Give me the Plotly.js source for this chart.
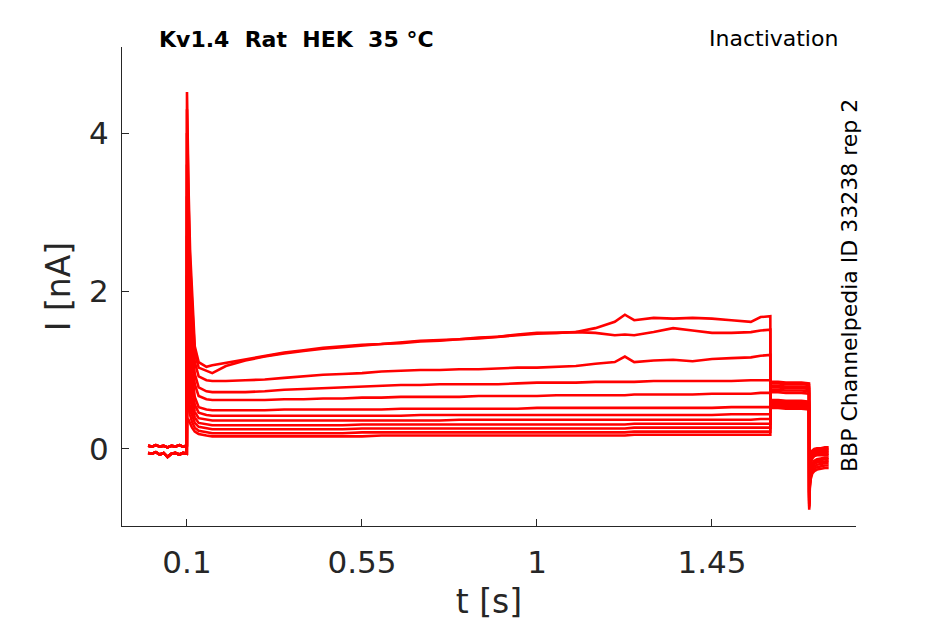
<!DOCTYPE html>
<html>
<head>
<meta charset="utf-8">
<script src="https://cdn.plot.ly/plotly-3.0.1.min.js"></script>
<style>
  html, body { margin: 0; padding: 0; background: #ffffff; }
  #chart { width: 945px; height: 624px; }
</style>
</head>
<body>
<div id="chart"></div>
<script>
// Kv1.4 inactivation protocol, 12 sweeps (A = largest current ... L = smallest)

// holding segment before the prepulse
const preT = [0, 0.01, 0.02, 0.03, 0.04, 0.05, 0.06, 0.07, 0.08, 0.09, 0.0995];
const preHi = [0.04, 0.03, 0.05, 0.03, 0.04, 0.02, 0.04, 0.03, 0.05, 0.03, 0.04];
const preLo = [-0.05, -0.06, -0.04, -0.07, -0.05, -0.10, -0.06, -0.05, -0.07, -0.05, -0.06];

// prepulse segment (0.1 s .. 1.6 s)
const pulseT = [0.1, 0.104, 0.108, 0.113, 0.12, 0.13, 0.15, 0.165, 0.2, 0.25,
    0.3, 0.35, 0.4, 0.45, 0.5, 0.55, 0.6, 0.65, 0.7, 0.75,
    0.8, 0.85, 0.9, 0.95, 1.0, 1.05, 1.1, 1.15, 1.18, 1.2,
    1.226, 1.25, 1.3, 1.35, 1.4, 1.45, 1.5, 1.55, 1.575, 1.6];

const iA = [4.52, 3.30, 2.50, 2.00, 1.30, 1.10, 1.04, 1.06, 1.09, 1.14,
    1.18, 1.22, 1.25, 1.28, 1.30, 1.32, 1.33, 1.35, 1.37, 1.38,
    1.39, 1.41, 1.42, 1.45, 1.47, 1.47, 1.48, 1.53, 1.58, 1.61,
    1.70, 1.63, 1.66, 1.65, 1.66, 1.65, 1.63, 1.61, 1.67, 1.68];
const iB = [4.30, 3.10, 2.35, 1.85, 1.22, 1.03, 0.99, 0.96, 1.05, 1.12,
    1.17, 1.21, 1.24, 1.27, 1.29, 1.31, 1.33, 1.34, 1.36, 1.37,
    1.39, 1.40, 1.42, 1.44, 1.46, 1.47, 1.48, 1.47, 1.45, 1.44,
    1.45, 1.44, 1.48, 1.53, 1.50, 1.47, 1.47, 1.48, 1.50, 1.51];
const iC = [4.00, 2.90, 2.10, 1.60, 1.10, 0.92, 0.87, 0.86, 0.86, 0.87,
    0.88, 0.90, 0.92, 0.94, 0.95, 0.96, 0.98, 0.99, 1.00, 1.00,
    1.01, 1.01, 1.02, 1.03, 1.03, 1.04, 1.05, 1.08, 1.09, 1.10,
    1.17, 1.10, 1.12, 1.13, 1.11, 1.14, 1.15, 1.16, 1.18, 1.19];
const iD = [3.60, 2.60, 1.80, 1.35, 0.95, 0.78, 0.73, 0.72, 0.72, 0.72,
    0.73, 0.75, 0.76, 0.77, 0.78, 0.79, 0.80, 0.81, 0.81, 0.82,
    0.82, 0.82, 0.82, 0.83, 0.84, 0.84, 0.84, 0.85, 0.85, 0.85,
    0.85, 0.85, 0.86, 0.86, 0.86, 0.86, 0.86, 0.87, 0.87, 0.87];
const iE = [3.20, 2.30, 1.60, 1.15, 0.82, 0.67, 0.63, 0.62, 0.62, 0.62,
    0.62, 0.63, 0.63, 0.64, 0.64, 0.65, 0.65, 0.66, 0.66, 0.66,
    0.66, 0.67, 0.67, 0.67, 0.67, 0.68, 0.68, 0.68, 0.68, 0.68,
    0.68, 0.69, 0.69, 0.69, 0.69, 0.70, 0.70, 0.70, 0.71, 0.71];
const iF = [2.70, 1.90, 1.30, 0.95, 0.66, 0.53, 0.50, 0.49, 0.49, 0.49,
    0.49, 0.50, 0.50, 0.50, 0.50, 0.50, 0.50, 0.51, 0.51, 0.51,
    0.51, 0.51, 0.51, 0.51, 0.52, 0.52, 0.52, 0.52, 0.52, 0.52,
    0.52, 0.52, 0.52, 0.52, 0.52, 0.52, 0.53, 0.53, 0.53, 0.53];
const iG = [2.20, 1.60, 1.10, 0.80, 0.56, 0.46, 0.43, 0.42, 0.42, 0.42,
    0.42, 0.42, 0.42, 0.42, 0.42, 0.42, 0.42, 0.42, 0.43, 0.43,
    0.43, 0.43, 0.43, 0.43, 0.43, 0.43, 0.43, 0.43, 0.43, 0.43,
    0.43, 0.43, 0.43, 0.43, 0.43, 0.43, 0.44, 0.44, 0.44, 0.44];
const iH = [1.70, 1.25, 0.90, 0.65, 0.47, 0.39, 0.37, 0.36, 0.36, 0.36,
    0.36, 0.36, 0.36, 0.36, 0.36, 0.36, 0.36, 0.36, 0.36, 0.36,
    0.37, 0.37, 0.37, 0.37, 0.37, 0.37, 0.37, 0.37, 0.37, 0.37,
    0.37, 0.37, 0.37, 0.37, 0.37, 0.37, 0.37, 0.37, 0.38, 0.38];
const iI = [1.30, 1.00, 0.72, 0.53, 0.40, 0.33, 0.31, 0.30, 0.30, 0.30,
    0.30, 0.30, 0.30, 0.30, 0.30, 0.31, 0.31, 0.31, 0.31, 0.31,
    0.31, 0.31, 0.31, 0.31, 0.31, 0.31, 0.31, 0.31, 0.31, 0.31,
    0.31, 0.32, 0.32, 0.32, 0.32, 0.32, 0.32, 0.32, 0.32, 0.32];
const iJ = [0.95, 0.75, 0.56, 0.43, 0.33, 0.28, 0.26, 0.25, 0.25, 0.25,
    0.25, 0.25, 0.25, 0.25, 0.25, 0.26, 0.26, 0.26, 0.26, 0.26,
    0.26, 0.26, 0.26, 0.26, 0.26, 0.26, 0.26, 0.26, 0.26, 0.26,
    0.26, 0.27, 0.27, 0.27, 0.27, 0.27, 0.27, 0.27, 0.27, 0.27];
const iK = [0.65, 0.55, 0.43, 0.34, 0.27, 0.23, 0.21, 0.20, 0.20, 0.20,
    0.20, 0.20, 0.20, 0.20, 0.20, 0.21, 0.21, 0.21, 0.21, 0.21,
    0.21, 0.21, 0.21, 0.21, 0.21, 0.21, 0.21, 0.21, 0.21, 0.21,
    0.21, 0.22, 0.22, 0.22, 0.22, 0.22, 0.22, 0.22, 0.22, 0.22];
const iL = [0.38, 0.37, 0.32, 0.27, 0.22, 0.19, 0.17, 0.16, 0.16, 0.16,
    0.16, 0.16, 0.16, 0.16, 0.16, 0.16, 0.17, 0.17, 0.17, 0.17,
    0.17, 0.17, 0.17, 0.17, 0.17, 0.17, 0.17, 0.17, 0.17, 0.17,
    0.17, 0.18, 0.18, 0.18, 0.18, 0.18, 0.18, 0.18, 0.18, 0.18];

// test step (1.6 .. 1.7 s) followed by tail after repolarisation
const afterT = [1.6005, 1.62, 1.64, 1.66, 1.68, 1.6995,
    1.7, 1.7015, 1.704, 1.708, 1.713, 1.72, 1.73, 1.74, 1.75];

const aA = [0.52, 0.52, 0.51, 0.51, 0.51, 0.50, -0.77, -0.50, -0.38, -0.31, -0.28, -0.26, -0.25, -0.24, -0.24];
const aB = [0.54, 0.54, 0.53, 0.53, 0.53, 0.52, -0.74, -0.47, -0.35, -0.28, -0.25, -0.23, -0.22, -0.21, -0.21];
const aC = [0.56, 0.56, 0.55, 0.55, 0.55, 0.54, -0.72, -0.44, -0.32, -0.25, -0.22, -0.20, -0.19, -0.18, -0.18];
const aD = [0.58, 0.58, 0.57, 0.57, 0.57, 0.56, -0.70, -0.41, -0.29, -0.22, -0.19, -0.17, -0.16, -0.16, -0.15];
const aE = [0.60, 0.60, 0.59, 0.59, 0.59, 0.58, -0.68, -0.38, -0.27, -0.20, -0.17, -0.15, -0.14, -0.13, -0.13];
const aF = [0.62, 0.62, 0.61, 0.61, 0.61, 0.60, -0.66, -0.36, -0.25, -0.18, -0.15, -0.13, -0.12, -0.11, -0.11];
const aG = [0.72, 0.72, 0.71, 0.71, 0.71, 0.70, -0.64, -0.30, -0.18, -0.12, -0.09, -0.08, -0.08, -0.08, -0.08];
const aH = [0.75, 0.75, 0.74, 0.74, 0.74, 0.73, -0.62, -0.28, -0.16, -0.10, -0.07, -0.06, -0.06, -0.06, -0.06];
const aI = [0.78, 0.78, 0.77, 0.77, 0.77, 0.76, -0.60, -0.26, -0.14, -0.08, -0.05, -0.04, -0.04, -0.04, -0.04];
const aJ = [0.80, 0.80, 0.79, 0.79, 0.79, 0.78, -0.58, -0.24, -0.12, -0.06, -0.03, -0.02, -0.02, -0.02, -0.02];
const aK = [0.83, 0.83, 0.82, 0.82, 0.82, 0.81, -0.56, -0.22, -0.10, -0.04, -0.01, 0.00, 0.00, 0.00, 0.00];
const aL = [0.85, 0.85, 0.84, 0.84, 0.84, 0.83, -0.54, -0.20, -0.08, -0.02, 0.00, 0.01, 0.01, 0.02, 0.02];

const sweeps = [
    { pre: preLo, pulse: iA, after: aA },
    { pre: preLo, pulse: iB, after: aB },
    { pre: preLo, pulse: iC, after: aC },
    { pre: preLo, pulse: iD, after: aD },
    { pre: preLo, pulse: iE, after: aE },
    { pre: preLo, pulse: iF, after: aF },
    { pre: preHi, pulse: iG, after: aG },
    { pre: preHi, pulse: iH, after: aH },
    { pre: preHi, pulse: iI, after: aI },
    { pre: preHi, pulse: iJ, after: aJ },
    { pre: preHi, pulse: iK, after: aK },
    { pre: preHi, pulse: iL, after: aL }
];

const xTicks = [0.1, 0.55, 1, 1.45];
const xTickText = ['0.1', '0.55', '1', '1.45'];
const yTicks = [0, 2, 4];

const axisColor = '#262626';
const font = 'DejaVu Sans, Liberation Sans, sans-serif';

const traces = sweeps.map(s => ({
    x: preT.concat(pulseT, afterT),
    y: s.pre.concat(s.pulse, s.after),
    type: 'scatter',
    mode: 'lines',
    line: { color: '#ff0000', width: 2.6 },
    hoverinfo: 'skip'
}));

const layout = {
    width: 945,
    height: 624,
    margin: { l: 122, r: 89, t: 47, b: 98 },
    paper_bgcolor: '#ffffff',
    plot_bgcolor: '#ffffff',
    showlegend: false,
    font: { family: font, color: axisColor },
    xaxis: {
        range: [-0.0671, 1.8203],
        tickvals: xTicks,
        ticktext: xTickText,
        ticks: 'inside',
        ticklen: 7,
        tickcolor: axisColor,
        tickfont: { size: 31, color: axisColor },
        ticklabelstandoff: 9,
        showline: true,
        linecolor: axisColor,
        linewidth: 1,
        showgrid: false,
        zeroline: false,
        title: { text: 't [s]', font: { size: 33, color: axisColor }, standoff: 10 }
    },
    yaxis: {
        range: [-0.975, 5.089],
        tickvals: yTicks,
        ticks: 'inside',
        ticklen: 7,
        tickcolor: axisColor,
        tickfont: { size: 31, color: axisColor },
        ticklabelstandoff: 6,
        showline: true,
        linecolor: axisColor,
        linewidth: 1,
        showgrid: false,
        zeroline: false,
        title: { text: 'I [nA]', font: { size: 33, color: axisColor }, standoff: 8 }
    },
    annotations: [
        {
            text: '<b>Kv1.4\u00a0\u00a0Rat\u00a0\u00a0HEK\u00a0\u00a035 °C</b>',
            xref: 'paper', yref: 'paper',
            x: 0.2384, y: 1.0167, xanchor: 'center', yanchor: 'middle',
            showarrow: false,
            font: { family: font, size: 22, color: '#000000' }
        },
        {
            text: 'Inactivation',
            xref: 'paper', yref: 'paper',
            x: 0.978, y: 1.0187, xanchor: 'right', yanchor: 'middle',
            showarrow: false,
            font: { family: font, size: 22, color: '#000000' }
        },
        {
            text: 'BBP Channelpedia ID 33238 rep 2',
            xref: 'paper', yref: 'paper',
            x: 0.9905, y: 0.501, xanchor: 'center', yanchor: 'middle',
            textangle: -90,
            showarrow: false,
            font: { family: font, size: 22, color: '#000000' }
        }
    ]
};

Plotly.newPlot('chart', traces, layout, { displayModeBar: false, responsive: false });
</script>
</body>
</html>
